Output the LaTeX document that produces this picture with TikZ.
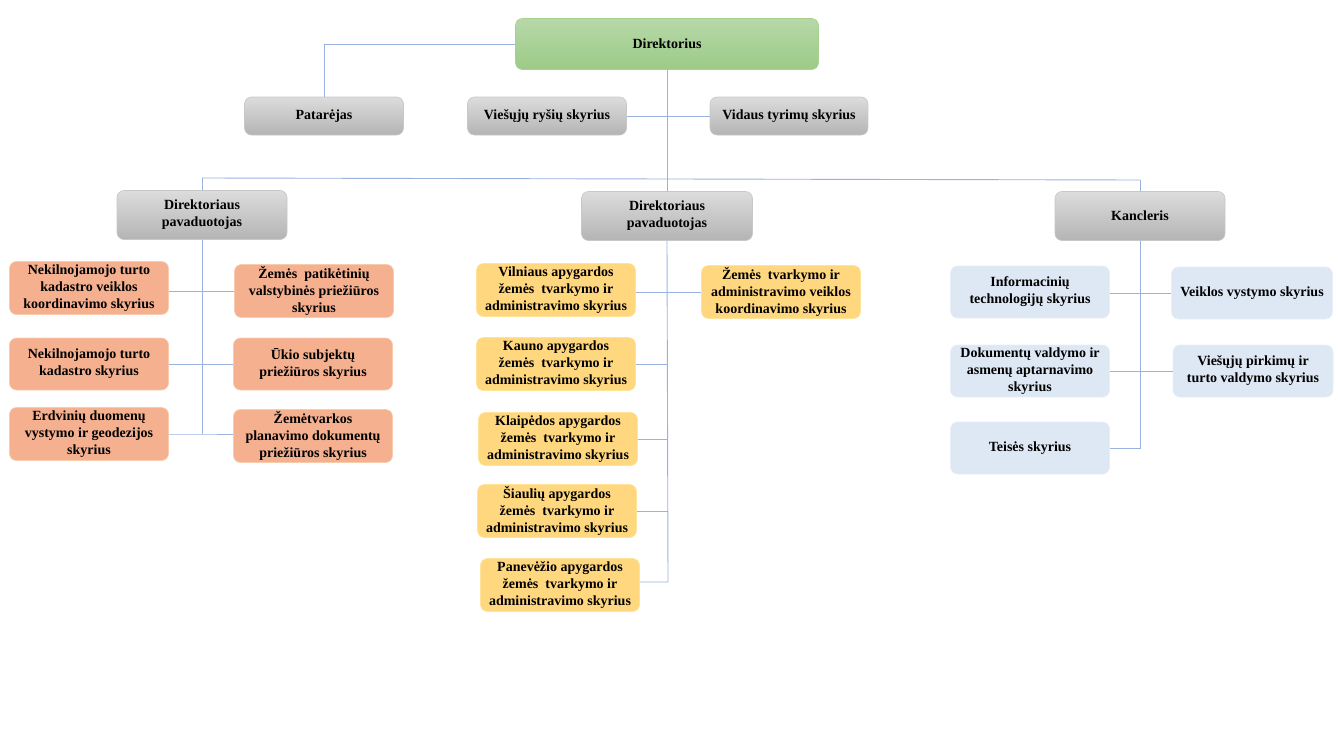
\documentclass[tikz,border=0pt]{standalone}
\usepackage{fontspec}
\setmainfont{Liberation Serif}
\definecolor{grayTop}{HTML}{DCDCDC}
\definecolor{grayBot}{HTML}{B4B4B4}
\definecolor{grayLine}{HTML}{C8C8C8}
\definecolor{greenTop}{HTML}{B7D8A9}
\definecolor{greenBot}{HTML}{9CCB86}
\definecolor{greenLine}{HTML}{A9D18E}
\definecolor{salmon}{HTML}{F5B090}
\definecolor{salmonLine}{HTML}{F8CBAD}
\definecolor{yellowF}{HTML}{FFD77F}
\definecolor{yellowLine}{HTML}{FFE39B}
\definecolor{blueF}{HTML}{DEE8F4}
\definecolor{blueLine}{HTML}{E6EEF8}
\definecolor{conn}{HTML}{9AB2E0}
\tikzset{
  box/.style={rounded corners=7pt, align=center, inner sep=1pt,
    font=\fontsize{14}{17}\selectfont\bfseries, text=black, line width=0.6pt},
  graybox/.style={box, draw=grayLine, top color=grayTop, bottom color=grayBot},
  greenbox/.style={box, draw=greenLine, top color=greenTop, bottom color=greenBot},
  salbox/.style={box, draw=salmonLine, fill=salmon},
  yelbox/.style={box, draw=yellowLine, fill=yellowF},
  bluebox/.style={box, draw=blueLine, fill=blueF},
  wide/.style={minimum width=159pt, minimum height=52pt},
  conline/.style={draw=conn, line width=0.9pt}
}
\begin{document}
\begin{tikzpicture}[x=1pt,y=-1pt]
\useasboundingbox (0,0) rectangle (1338,752);
% top level
\node[greenbox, minimum width=303pt, minimum height=51pt] (dir) at (667,44) {Direktorius};
\node[graybox, minimum width=159pt, minimum height=38pt] (pat) at (324,116) {Patarėjas};
\node[graybox, minimum width=159pt, minimum height=38pt] (vrs) at (547,116) {Viešųjų ryšių skyrius};
\node[graybox, minimum width=158pt, minimum height=38pt] (vts) at (789,116) {Vidaus tyrimų skyrius};
% second level
\node[graybox, minimum width=170pt, minimum height=49pt] (dep1) at (202,215) {Direktoriaus\\pavaduotojas};
\node[graybox, minimum width=171pt, minimum height=49pt] (dep2) at (667,216) {Direktoriaus\\pavaduotojas};
\node[graybox, minimum width=170pt, minimum height=49pt] (kan) at (1140,216) {Kancleris};
% left group
\node[salbox, wide, minimum height=53pt] (l1) at (89,288) {Nekilnojamojo turto\\kadastro veiklos\\koordinavimo skyrius};
\node[salbox, wide, minimum height=53pt] (r1) at (314,291) {Žemės\ \ patikėtinių\\valstybinės priežiūros\\skyrius};
\node[salbox, wide] (l2) at (89,364) {Nekilnojamojo turto\\kadastro skyrius};
\node[salbox, wide] (r2) at (313,364) {Ūkio subjektų\\priežiūros skyrius};
\node[salbox, wide, minimum height=53pt] (l3) at (89,434) {Erdvinių duomenų\\vystymo ir geodezijos\\skyrius};
\node[salbox, wide, minimum height=53pt] (r3) at (313,436) {Žemėtvarkos\\planavimo dokumentų\\priežiūros skyrius};
% middle group
\node[yelbox, wide, minimum height=53pt] (vil) at (556,290) {Vilniaus apygardos\\žemės\ \ tvarkymo ir\\administravimo skyrius};
\node[yelbox, wide, minimum height=53pt] (ztk) at (781,292) {Žemės\ \ tvarkymo ir\\administravimo veiklos\\koordinavimo skyrius};
\node[yelbox, wide, minimum height=53pt] (kau) at (556,364) {Kauno apygardos\\žemės\ \ tvarkymo ir\\administravimo skyrius};
\node[yelbox, wide, minimum height=53pt] (kla) at (558,439) {Klaipėdos apygardos\\žemės\ \ tvarkymo ir\\administravimo skyrius};
\node[yelbox, wide, minimum height=53pt] (sia) at (557,511) {Šiaulių apygardos\\žemės\ \ tvarkymo ir\\administravimo skyrius};
\node[yelbox, wide, minimum height=53pt] (pan) at (560,585) {Panevėžio apygardos\\žemės\ \ tvarkymo ir\\administravimo skyrius};
% right group
\node[bluebox, wide] (inf) at (1030,292) {Informacinių\\technologijų skyrius};
\node[bluebox, wide, minimum width=161pt] (vvs) at (1252,293) {Veiklos vystymo skyrius};
\node[bluebox, wide] (dok) at (1030,371) {Dokumentų valdymo ir\\asmenų aptarnavimo\\skyrius};
\node[bluebox, wide, minimum width=160pt] (vpk) at (1253,371) {Viešųjų pirkimų ir\\turto valdymo skyrius};
\node[bluebox, wide] (tei) at (1030,448) {Teisės skyrius};
% connectors
\coordinate (hl) at (202,178);
\coordinate (hm) at (667,179);
\coordinate (hr) at (1140,180);
\coordinate (lb) at (202,434);
\coordinate (mb) at (668,582);
\coordinate (rb) at (1140,448);
\draw[conline] (dir.west) -| (pat.north);
\draw[conline] (vrs.east) -- (vts.west);
\draw[conline] (dir.south) -- (hm);
\draw[conline] (hl) -- (hr);
\draw[conline] (hl) -- (dep1.north);
\draw[conline] (hm) -- (dep2.north);
\draw[conline] (hr) -- (kan.north);
% left
\draw[conline] (dep1.south) -- (lb);
\draw[conline] (l1.east |- r1.west) -- (r1.west);
\draw[conline] (l2.east) -- (r2.west);
\draw[conline] (l3.east) -- (lb) -- (r3.west |- lb);
% middle
\draw[conline] (dep2.south) -- (mb) -- (pan.east |- mb);
\draw[conline] (vil.east |- ztk.west) -- (ztk.west);
\draw[conline] (kau.east) -- (kau.east -| mb);
\draw[conline] (kla.east) -- (kla.east -| mb);
\draw[conline] (sia.east) -- (sia.east -| mb);
% right
\draw[conline] (kan.south) -- (rb) -- (tei.east);
\draw[conline] (inf.east |- vvs.west) -- (vvs.west);
\draw[conline] (dok.east) -- (vpk.west);
\end{tikzpicture}
\end{document}
